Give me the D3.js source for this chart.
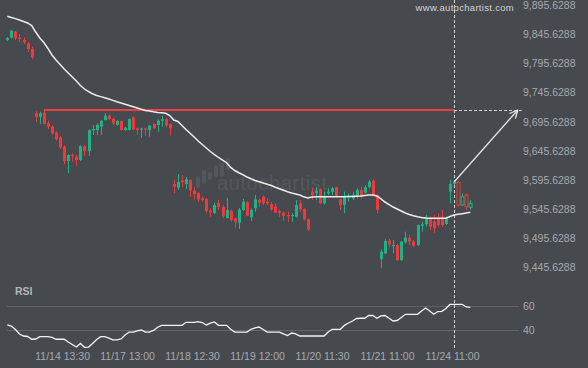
<!DOCTYPE html>
<html><head><meta charset="utf-8">
<script src="https://cdn.jsdelivr.net/npm/d3@7"></script>
<style>html,body{margin:0;padding:0;background:#46494e;} svg{display:block;}</style>
</head><body><svg id="c" width="588" height="368"></svg>
<script>
// ---- data ----
const opens = [9835.6, 9839.6, 9849.9, 9839.6, 9835.6, 9830.0, 9820.2, 9710.0, 9704.1, 9711.0,
9692.8, 9687.0, 9676.7, 9668.8, 9652.7, 9628.2, 9638.5, 9635.6, 9629.9, 9652.7,
9645.3, 9681.3, 9681.3, 9687.0, 9698.5, 9705.9, 9700.2, 9689.9, 9696.8, 9681.3,
9681.3, 9703.1, 9684.3, 9682.2, 9684.3, 9681.3, 9691.6, 9689.9, 9697.3, 9700.2,
9691.1, 9588.8, 9582.8, 9594.8, 9588.8, 9595.6, 9577.6, 9573.3, 9564.3, 9563.1,
9543.0, 9539.1, 9556.2, 9549.3, 9530.5, 9542.5, 9530.0, 9522.4, 9544.2, 9557.4,
9531.7, 9547.1, 9561.3, 9567.0, 9558.4, 9554.5, 9549.9, 9542.5, 9539.6, 9535.6,
9533.9, 9532.7, 9555.7, 9545.9, 9528.3, 9575.6, 9572.8, 9579.7, 9555.7, 9572.8,
9575.6, 9583.1, 9562.5, 9552.8, 9565.6, 9564.3, 9567.0, 9578.5, 9573.9, 9583.1,
9594.4, 9569.9, 9459.7, 9470.0, 9491.6, 9482.5, 9484.2, 9458.5, 9488.8, 9496.7,
9489.9, 9484.2, 9517.3, 9519.7, 9530.0, 9524.1, 9530.0, 9532.7, 9520.2, 9575.6,
9588.8, 9591.3, 9552.8, 9569.9, 9548.8];
const highs = [9840.8, 9852.8, 9851.1, 9845.9, 9840.3, 9832.7, 9824.1, 9713.9, 9712.7, 9715.6,
9697.3, 9689.9, 9678.8, 9671.1, 9655.6, 9639.7, 9641.4, 9638.5, 9654.8, 9655.6,
9682.5, 9689.9, 9692.8, 9698.5, 9710.0, 9707.9, 9701.9, 9698.5, 9697.6, 9686.5,
9701.1, 9704.5, 9685.3, 9685.3, 9685.3, 9689.9, 9692.5, 9699.7, 9705.9, 9702.4,
9692.8, 9595.6, 9605.9, 9604.2, 9600.8, 9596.5, 9583.6, 9575.1, 9567.0, 9564.8,
9547.1, 9556.7, 9561.3, 9552.8, 9564.8, 9545.4, 9531.3, 9547.6, 9563.1, 9559.6,
9547.1, 9569.9, 9563.1, 9568.7, 9564.3, 9558.4, 9555.7, 9545.4, 9541.3, 9541.3,
9538.5, 9561.3, 9561.3, 9547.6, 9529.6, 9581.4, 9584.1, 9581.1, 9575.6, 9581.4,
9584.1, 9584.1, 9563.9, 9575.6, 9572.8, 9575.6, 9581.4, 9584.1, 9587.1, 9595.6,
9596.8, 9570.8, 9476.8, 9494.0, 9494.5, 9492.8, 9485.9, 9491.1, 9507.0, 9501.3,
9492.8, 9519.7, 9524.1, 9535.6, 9532.7, 9535.6, 9538.5, 9544.2, 9532.7, 9595.6,
9594.8, 9593.9, 9572.8, 9572.8, 9561.3];
const lows = [9833.9, 9838.2, 9835.6, 9832.2, 9828.8, 9815.6, 9802.5, 9695.6, 9691.6, 9690.8,
9683.1, 9672.8, 9663.3, 9648.8, 9622.5, 9607.1, 9627.0, 9620.1, 9628.2, 9637.3,
9636.8, 9672.8, 9672.8, 9672.8, 9697.6, 9698.5, 9689.9, 9688.7, 9680.5, 9679.6,
9680.5, 9681.3, 9672.8, 9668.1, 9671.1, 9669.9, 9683.1, 9678.4, 9687.0, 9687.0,
9671.6, 9572.8, 9578.5, 9583.1, 9580.2, 9567.0, 9562.2, 9558.4, 9558.4, 9539.6,
9532.7, 9537.3, 9544.2, 9530.0, 9529.6, 9524.1, 9513.9, 9511.6, 9542.5, 9533.1,
9525.3, 9541.3, 9549.9, 9552.8, 9552.8, 9542.5, 9538.5, 9532.7, 9525.3, 9524.1,
9524.1, 9531.3, 9541.3, 9526.2, 9508.2, 9561.3, 9561.3, 9554.5, 9552.8, 9569.9,
9569.9, 9567.0, 9544.2, 9538.5, 9558.4, 9561.3, 9564.3, 9564.3, 9572.8, 9581.4,
9568.2, 9538.5, 9444.3, 9468.3, 9480.3, 9470.0, 9456.8, 9456.8, 9487.1, 9484.2,
9480.3, 9482.5, 9507.0, 9515.6, 9509.9, 9505.3, 9515.6, 9515.6, 9518.5, 9555.7,
9587.1, 9549.9, 9551.1, 9544.2, 9544.2];
const closes = [9839.1, 9851.6, 9838.5, 9837.3, 9831.7, 9820.2, 9806.0, 9704.1, 9710.0, 9691.6,
9687.0, 9675.7, 9665.4, 9651.7, 9628.2, 9638.5, 9636.8, 9629.9, 9653.9, 9645.3,
9681.3, 9683.1, 9689.9, 9696.8, 9705.9, 9700.2, 9692.8, 9696.8, 9681.3, 9685.3,
9700.2, 9682.5, 9681.3, 9683.9, 9682.5, 9688.7, 9684.3, 9697.3, 9699.7, 9688.7,
9684.3, 9584.1, 9592.2, 9592.2, 9596.8, 9577.6, 9571.6, 9562.5, 9561.3, 9542.5,
9540.3, 9552.8, 9548.8, 9533.4, 9544.2, 9527.1, 9524.1, 9544.7, 9558.4, 9534.4,
9544.2, 9562.5, 9556.7, 9555.7, 9555.7, 9545.4, 9539.6, 9539.6, 9534.4, 9533.4,
9535.6, 9552.8, 9545.4, 9528.3, 9511.1, 9569.9, 9577.3, 9555.7, 9567.0, 9575.6,
9581.4, 9568.2, 9552.8, 9567.0, 9567.3, 9569.9, 9578.5, 9567.0, 9583.1, 9592.7,
9569.9, 9544.2, 9472.7, 9491.1, 9485.4, 9484.2, 9458.5, 9489.9, 9496.7, 9489.9,
9483.0, 9518.5, 9519.7, 9532.7, 9515.6, 9512.8, 9518.5, 9518.5, 9530.0, 9588.8,
9592.7, 9552.8, 9567.0, 9549.9, 9555.7];
const ma = [9876.4, 9874.2, 9872.3, 9869.9, 9867.3, 9864.8, 9860.5, 9849.3, 9839.1, 9831.3,
9821.1, 9809.9, 9801.3, 9793.6, 9785.9, 9779.1, 9772.2, 9765.3, 9757.6, 9751.6,
9747.3, 9743.4, 9740.5, 9738.6, 9736.7, 9734.5, 9732.1, 9729.7, 9727.6, 9725.4,
9723.3, 9721.3, 9719.1, 9716.8, 9714.9, 9713.9, 9712.5, 9711.5, 9710.8, 9710.1,
9706.2, 9698.5, 9695.9, 9689.1, 9682.2, 9675.7, 9669.3, 9662.5, 9656.5, 9650.5,
9644.5, 9639.3, 9634.2, 9629.9, 9625.3, 9617.1, 9611.9, 9608.1, 9604.7, 9600.8,
9597.7, 9594.8, 9592.7, 9590.5, 9588.4, 9586.2, 9583.1, 9580.5, 9578.0, 9575.4,
9573.3, 9571.6, 9569.9, 9566.8, 9564.8, 9566.5, 9567.0, 9567.0, 9567.0, 9567.0,
9567.0, 9567.0, 9567.0, 9567.0, 9567.3, 9567.3, 9567.7, 9568.2, 9569.1, 9569.9,
9569.9, 9568.2, 9563.1, 9557.9, 9553.6, 9549.3, 9545.9, 9542.5, 9539.1, 9536.5,
9534.3, 9532.5, 9531.3, 9530.5, 9530.0, 9530.0, 9530.0, 9530.0, 9530.0, 9533.1,
9535.6, 9536.8, 9537.9, 9539.1, 9540.3];
const rsi = [44.2, 43.3, 40.4, 36.7, 35.0, 34.6, 32.3, 32.5, 34.4, 34.4,
34.4, 33.8, 32.3, 32.3, 32.3, 30.0, 27.9, 25.8, 28.8, 25.6,
25.8, 28.8, 32.1, 34.4, 34.4, 33.3, 31.7, 31.7, 32.5, 35.8,
38.3, 38.3, 39.3, 40.0, 38.3, 38.3, 39.6, 42.3, 43.9, 43.9,
43.9, 43.9, 43.9, 43.9, 46.4, 46.4, 46.4, 47.0, 46.2, 44.2,
45.8, 46.7, 43.9, 43.9, 43.9, 40.6, 38.3, 38.3, 38.3, 38.3,
40.6, 41.7, 42.5, 40.4, 38.3, 38.3, 38.3, 38.3, 36.7, 35.4,
37.5, 36.7, 35.0, 35.0, 35.0, 35.0, 35.0, 35.0, 35.0, 38.3,
40.6, 40.6, 40.6, 43.9, 45.8, 47.5, 49.6, 49.8, 49.8, 52.1,
52.1, 49.8, 51.7, 52.1, 49.8, 47.5, 47.9, 50.4, 53.1, 53.1,
53.1, 53.1, 55.8, 58.3, 55.8, 53.1, 55.4, 55.6, 57.9, 61.3,
61.4, 61.4, 61.4, 59.2, 58.9];
const priceTicks = [9895.6288, 9845.6288, 9795.6288, 9745.6288, 9695.6288, 9645.6288, 9595.6288, 9545.6288, 9495.6288, 9445.6288];
const rsiTicks = [40, 60];
const timeLabels = ["11/14 13:30", "11/17 13:00", "11/18 12:30", "11/19 12:00", "11/20 11:30", "11/21 11:00", "11/24 11:00"];
const timeLabelIdx = [13.5, 29.5, 45.5, 61.5, 77.5, 93.5, 109.5];
const resistance = 9715.6;
const patternStart = 9, patternEnd = 110;      // candle indices
const forecastEnd = 125.7;                      // index where projection ends
const arrowFrom = 9592.2, arrowTo = 9715.6;     // projection values

// ---- drawing ----
const W = 588, H = 368;
const BG = '#46494e', GREEN = '#1db386', RED = '#f0393d', AXIS = '#a6aaaf';
const svg = d3.select('#c');
svg.append('rect').attr('width', W).attr('height', H).attr('fill', BG);

const x = d3.scaleLinear().domain([0, opens.length - 1]).range([7.3, 470.3]);
const y = d3.scaleLinear().domain([9445.6288, 9895.6288]).range([267.5, 5]);
const yr = d3.scaleLinear().domain([40, 60]).range([330, 306]);
const font = '"Liberation Sans", Arial, sans-serif';

// watermark
const wm = svg.append('g').attr('fill', '#ffffff').attr('opacity', 0.07);
[[196, 176, 12], [202, 170, 14], [208, 172, 8], [214, 165, 12], [220, 163, 14], [226, 158, 12]]
  .forEach(([bx, by, bh]) => wm.append('rect').attr('x', bx).attr('y', by).attr('width', 4).attr('height', bh).attr('rx', 2));
wm.append('text').attr('x', 217).attr('y', 190).attr('font-family', font).attr('font-size', 20)
  .attr('letter-spacing', 0.6).text('autochartist');

// site label
svg.append('text').attr('x', 514).attr('y', 11).attr('text-anchor', 'end')
  .attr('font-family', font).attr('font-size', 9.5).attr('letter-spacing', 0.3)
  .attr('fill', '#d2d4d6').text('www.autochartist.com');

// RSI grid
svg.selectAll('.rg').data(rsiTicks).join('line').attr('class', 'rg')
  .attr('x1', 7).attr('x2', 519).attr('y1', d => Math.round(yr(d)) + 0.5).attr('y2', d => Math.round(yr(d)) + 0.5)
  .attr('stroke', '#5f6368').attr('stroke-width', 1);

// axes
const yAxis = d3.axisRight(y).tickValues(priceTicks).tickFormat(d3.format(',.4f')).tickSize(0).tickPadding(0);
const ga = svg.append('g').attr('transform', 'translate(523,0)').call(yAxis);
const rAxis = d3.axisRight(yr).tickValues(rsiTicks).tickFormat(d3.format('d')).tickSize(0).tickPadding(0);
const gr = svg.append('g').attr('transform', 'translate(523,0)').call(rAxis);
const xAxis = d3.axisBottom(x).tickValues(timeLabelIdx).tickFormat((d, i) => timeLabels[i]).tickSize(0).tickPadding(3);
const gx = svg.append('g').attr('transform', 'translate(0,350)').call(xAxis);
[ga, gr, gx].forEach(g => {
  g.select('.domain').remove();
  g.selectAll('text').attr('fill', AXIS).attr('font-family', font).attr('font-size', 10.5);
});

svg.append('text').attr('x', 15).attr('y', 295).attr('font-family', font).attr('font-size', 10.5)
  .attr('font-weight', 'bold').attr('fill', '#b3b6ba').text('RSI');

// RSI line
svg.append('path').datum(rsi)
  .attr('d', d3.line().x((d, i) => x(i)).y(d => yr(d)))
  .attr('fill', 'none').attr('stroke', '#f2f2f2').attr('stroke-width', 1.3);

// resistance line
svg.append('line').attr('x1', x(patternStart)).attr('x2', x(patternEnd))
  .attr('y1', y(resistance)).attr('y2', y(resistance))
  .attr('stroke', '#ea3f42').attr('stroke-width', 2.2);

// vertical dashed + projection
svg.append('line').attr('x1', Math.round(x(patternEnd)) + 0.5).attr('x2', Math.round(x(patternEnd)) + 0.5)
  .attr('y1', 0).attr('y2', 350).attr('stroke', '#d0d2d4').attr('stroke-width', 1).attr('stroke-dasharray', '3,2');
svg.append('line').attr('x1', x(patternEnd)).attr('x2', x(forecastEnd) + 4)
  .attr('y1', Math.round(y(resistance)) + 0.5).attr('y2', Math.round(y(resistance)) + 0.5)
  .attr('stroke', '#d0d2d4').attr('stroke-width', 1).attr('stroke-dasharray', '3,2');

// candles
const idx = d3.range(opens.length);
const cg = svg.append('g');
idx.forEach(i => {
  const up = closes[i] >= opens[i];
  const col = up ? GREEN : RED;
  const hollow = i > patternEnd;
  const cx = Math.round(x(i));
  cg.append('line').attr('x1', cx + 0.5).attr('x2', cx + 0.5)
    .attr('y1', y(highs[i])).attr('y2', y(lows[i])).attr('stroke', col).attr('stroke-width', 1);
  const top = y(Math.max(opens[i], closes[i])), bot = y(Math.min(opens[i], closes[i]));
  if (hollow) {
    cg.append('rect').attr('x', cx - 1).attr('y', top).attr('width', 3).attr('height', Math.max(1, bot - top))
      .attr('fill', BG).attr('stroke', col).attr('stroke-width', 1);
  } else {
    cg.append('rect').attr('x', cx - 1).attr('y', top).attr('width', 3).attr('height', Math.max(1.2, bot - top))
      .attr('fill', col);
  }
});

// moving average
svg.append('path').datum(ma)
  .attr('d', d3.line().x((d, i) => x(i)).y(d => y(d)))
  .attr('fill', 'none').attr('stroke', '#ececec').attr('stroke-width', 1.5);

// projection arrow
const ax1 = x(patternEnd), ay1 = y(arrowFrom), ax2 = x(forecastEnd), ay2 = y(arrowTo);
svg.append('line').attr('x1', ax1).attr('y1', ay1).attr('x2', ax2).attr('y2', ay2)
  .attr('stroke', '#e6e6e6').attr('stroke-width', 1.3);
const ang = Math.atan2(ay2 - ay1, ax2 - ax1), L = 9, spread = 0.45;
[ang + Math.PI - spread, ang + Math.PI + spread].forEach(a => {
  svg.append('line').attr('x1', ax2).attr('y1', ay2)
    .attr('x2', ax2 + L * Math.cos(a)).attr('y2', ay2 + L * Math.sin(a))
    .attr('stroke', '#e6e6e6').attr('stroke-width', 1.3);
});
</script></body></html>
